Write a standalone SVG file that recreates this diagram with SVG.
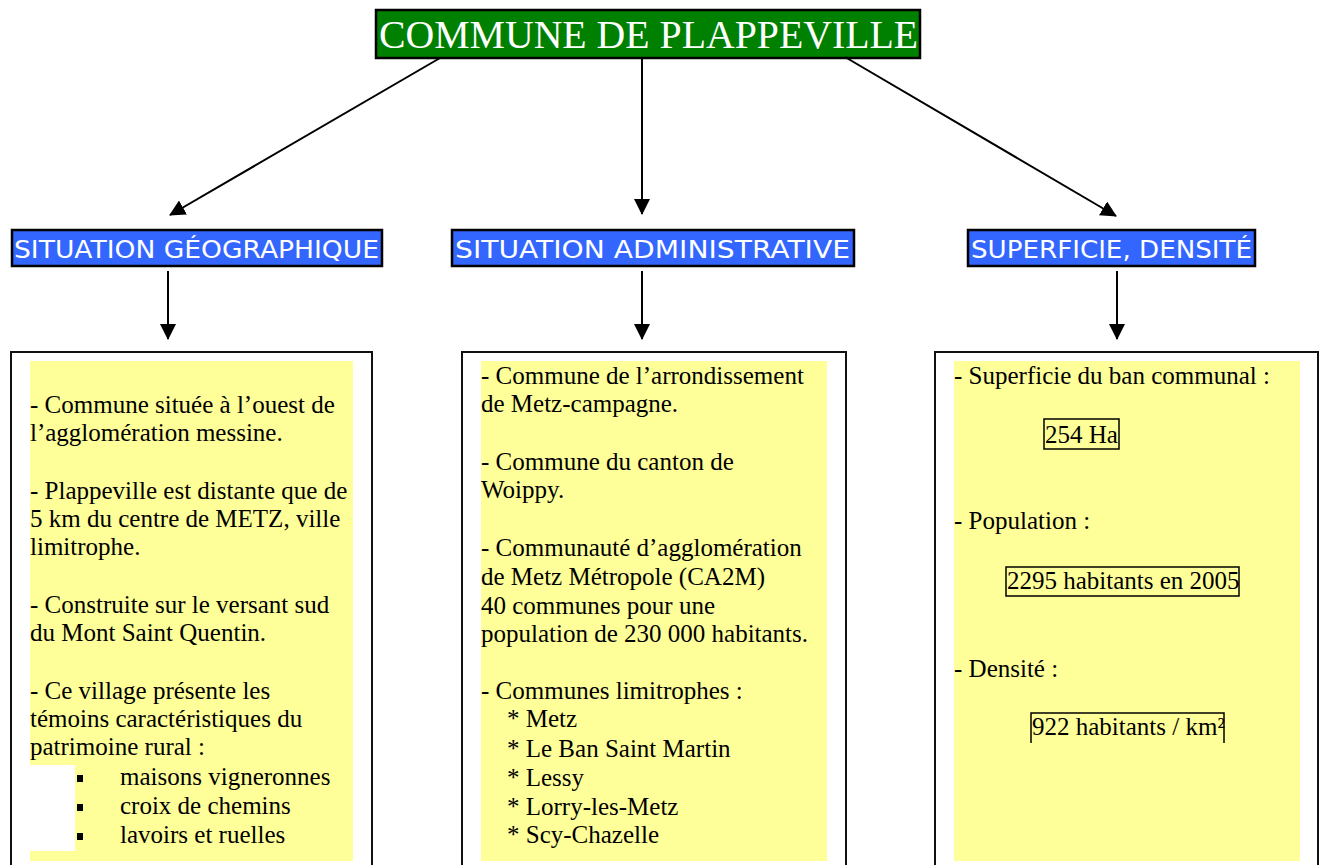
<svg xmlns="http://www.w3.org/2000/svg" width="1319" height="865" viewBox="0 0 1319 865">
<defs>
<style>
.title{font-family:"Liberation Serif","Times New Roman",serif;font-size:40px;fill:#fff}
.hdr{fill:#3366ff;stroke:#000;stroke-width:2.5}
.hdrt{font-family:"DejaVu Sans","Liberation Sans",sans-serif;font-size:24px;fill:#fff}
.box{fill:#fff;stroke:#111;stroke-width:2}
.yel{fill:#ffff99}
.t{font-family:"Liberation Serif","Times New Roman",serif;font-size:25px;fill:#000}
.conn{stroke:#000;stroke-width:2;fill:none}
.frame{fill:none;stroke:#000;stroke-width:1.5}
</style>
<marker id="ah" markerUnits="userSpaceOnUse" markerWidth="16" markerHeight="16" viewBox="0 0 16 16" refX="15" refY="8" orient="auto">
<path d="M0,0 L16,8 L0,16 Z" fill="#000"/>
</marker>
</defs>
<rect width="1319" height="865" fill="#fff"/>

<g id="title">
<rect x="376" y="10" width="544" height="48" fill="#008000" stroke="#000" stroke-width="2.5"/>
<text class="title" x="379" y="48" textLength="539" lengthAdjust="spacingAndGlyphs">COMMUNE DE PLAPPEVILLE</text>
</g>

<g id="connectors">
<line class="conn" x1="440" y1="58" x2="170" y2="215" marker-end="url(#ah)"/>
<line class="conn" x1="642" y1="59" x2="642" y2="214" marker-end="url(#ah)"/>
<line class="conn" x1="845" y1="57" x2="1116" y2="216" marker-end="url(#ah)"/>
<line class="conn" x1="168" y1="271" x2="168" y2="339" marker-end="url(#ah)"/>
<line class="conn" x1="642" y1="271" x2="642" y2="339" marker-end="url(#ah)"/>
<line class="conn" x1="1117" y1="271" x2="1117" y2="339" marker-end="url(#ah)"/>
</g>

<g id="hdr-geo">
<rect class="hdr" x="12" y="230" width="370" height="36"/>
<text class="hdrt" x="14" y="258" textLength="365" lengthAdjust="spacingAndGlyphs">SITUATION GÉOGRAPHIQUE</text>
</g>
<g id="hdr-admin">
<rect class="hdr" x="452" y="230" width="402" height="36"/>
<text class="hdrt" x="455" y="258" textLength="395" lengthAdjust="spacingAndGlyphs">SITUATION ADMINISTRATIVE</text>
</g>
<g id="hdr-sup">
<rect class="hdr" x="968" y="230" width="287" height="36"/>
<text class="hdrt" x="971" y="258" textLength="281" lengthAdjust="spacingAndGlyphs">SUPERFICIE, DENSITÉ</text>
</g>

<g id="box-geo">
<rect class="box" x="11" y="352" width="361" height="540"/>
<rect class="yel" x="30" y="361" width="323" height="500"/>
<rect x="30" y="765" width="45" height="86" fill="#fff"/>
<text class="t" x="30" y="413">- Commune située à l’ouest de</text>
<text class="t" x="30" y="441">l’agglomération messine.</text>
<text class="t" x="30" y="499">- Plappeville est distante que de</text>
<text class="t" x="30" y="527">5 km du centre de METZ, ville</text>
<text class="t" x="30" y="555">limitrophe.</text>
<text class="t" x="30" y="613">- Construite sur le versant sud</text>
<text class="t" x="30" y="641">du Mont Saint Quentin.</text>
<text class="t" x="30" y="699">- Ce village présente les</text>
<text class="t" x="30" y="727">témoins caractéristiques du</text>
<text class="t" x="30" y="755">patrimoine rural :</text>
<rect x="77" y="775" width="6" height="7" fill="#000"/>
<rect x="77" y="804" width="6" height="7" fill="#000"/>
<rect x="77" y="833" width="6" height="7" fill="#000"/>
<text class="t" x="120" y="785">maisons vigneronnes</text>
<text class="t" x="120" y="814">croix de chemins</text>
<text class="t" x="120" y="843">lavoirs et ruelles</text>
</g>

<g id="box-admin">
<rect class="box" x="462" y="352" width="384" height="540"/>
<rect class="yel" x="481" y="361" width="346" height="500"/>
<text class="t" x="481" y="384">- Commune de l’arrondissement</text>
<text class="t" x="481" y="412">de Metz-campagne.</text>
<text class="t" x="481" y="470">- Commune du canton de</text>
<text class="t" x="481" y="498">Woippy.</text>
<text class="t" x="481" y="556">- Communauté d’agglomération</text>
<text class="t" x="481" y="585">de Metz Métropole (CA2M)</text>
<text class="t" x="481" y="614">40 communes pour une</text>
<text class="t" x="481" y="642">population de 230 000 habitants.</text>
<text class="t" x="481" y="699">- Communes limitrophes :</text>
<text class="t" x="507" y="727">* Metz</text>
<text class="t" x="507" y="757">* Le Ban Saint Martin</text>
<text class="t" x="507" y="786">* Lessy</text>
<text class="t" x="507" y="815">* Lorry-les-Metz</text>
<text class="t" x="507" y="843">* Scy-Chazelle</text>
</g>

<g id="box-sup">
<rect class="box" x="935" y="352" width="383" height="540"/>
<rect class="yel" x="954" y="361" width="346" height="500"/>
<text class="t" x="954" y="384">- Superficie du ban communal :</text>
<rect class="frame" x="1044" y="419" width="75" height="30"/>
<text class="t" x="1045" y="443">254 Ha</text>
<text class="t" x="954" y="529">- Population :</text>
<rect class="frame" x="1006" y="567" width="233" height="29"/>
<text class="t" x="1007" y="589">2295 habitants en 2005</text>
<text class="t" x="954" y="677">- Densité :</text>
<path class="frame" d="M1031,743 L1031,713 L1224,713 L1224,743"/>
<text class="t" x="1032" y="735">922 habitants / km²</text>
</g>
</svg>
